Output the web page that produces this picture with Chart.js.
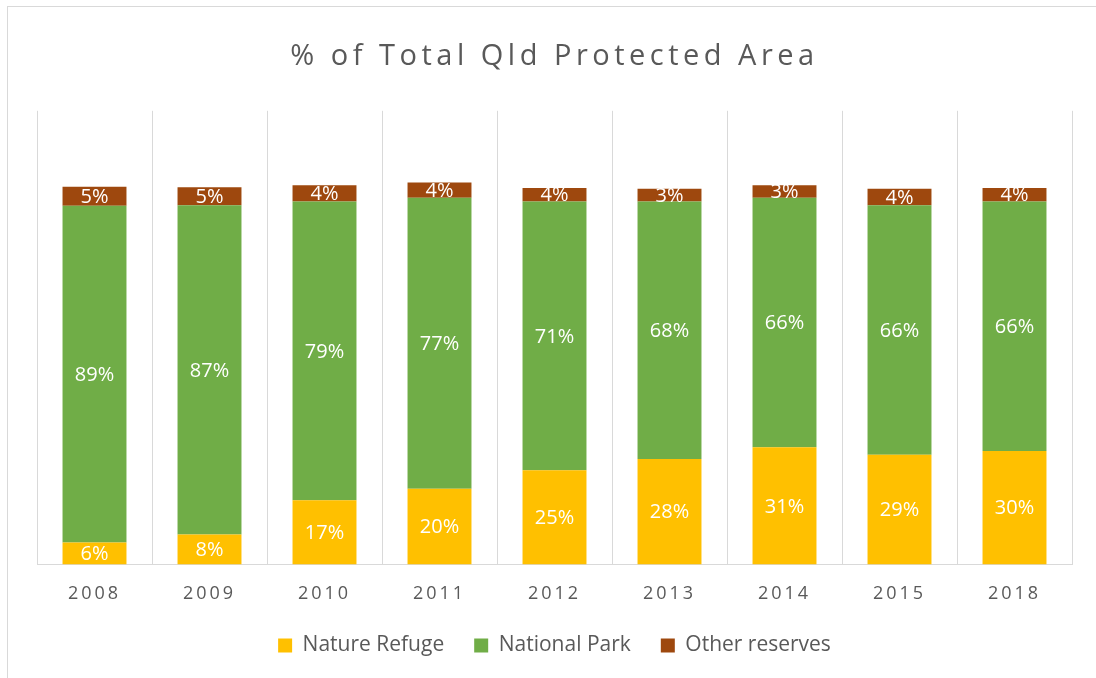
<!DOCTYPE html>
<html>
<head>
<meta charset="utf-8">
<title>% of Total Qld Protected Area</title>
<script src="https://cdn.jsdelivr.net/npm/chart.js@4.4.1/dist/chart.umd.min.js"></script>
<style>
  html, body { margin: 0; padding: 0; background: #fff; }
  #wrap { width: 1096px; height: 678px; position: relative; }
</style>
</head>
<body>
<div id="wrap"><canvas id="areaChart"></canvas></div>
<script>
// values (percent of total protected area)
const years = ['2008', '2009', '2010', '2011', '2012', '2013', '2014', '2015', '2018'];
const natureRefuge = [5.8, 7.9, 17.0, 20.0, 24.9, 27.9, 31.0, 29.0, 30.0];
const nationalPark = [89.1, 87.1, 79.0, 77.0, 71.1, 68.1, 66.0, 66.0, 66.0];
const otherReserves = [5.0, 4.8, 4.3, 4.0, 3.6, 3.4, 3.3, 4.4, 3.6];

const textGrey = '#595959';
const lineGrey = '#D9D9D9';

// wraps a draw method so the text it paints gets letter spacing
function spaced(obj, name, ls) {
    if (!obj || obj['_sp_' + name]) return;
    const orig = obj[name];
    obj[name] = function(...args) {
        const c = this.ctx;
        c.save();
        c.letterSpacing = ls;
        orig.apply(this, args);
        c.restore();
    };
    obj['_sp_' + name] = true;
}

const letterSpacing = {
    id: 'letterSpacing',
    afterLayout(chart) {
        spaced(chart.titleBlock, 'draw', '4.5px');
        spaced(chart.scales.x, 'drawLabels', '3px');
    }
};

const frame = {
    id: 'frame',
    beforeDraw(chart) {
        const ctx = chart.ctx;
        ctx.save();
        ctx.strokeStyle = lineGrey;
        ctx.lineWidth = 1;
        ctx.strokeRect(7.5, 6.5, chart.width + 20, chart.height + 20);
        ctx.restore();
    }
};

const valueLabels = {
    id: 'valueLabels',
    afterDatasetsDraw(chart) {
        const ctx = chart.ctx;
        ctx.save();
        ctx.fillStyle = '#ffffff';
        ctx.font = '20px "Open Sans"';
        ctx.textAlign = 'center';
        ctx.textBaseline = 'middle';
        chart.data.datasets.forEach((ds, di) => {
            const meta = chart.getDatasetMeta(di);
            meta.data.forEach((bar, i) => {
                const v = ds.data[i];
                const y = (bar.y + bar.base) / 2 + 1;
                ctx.fillText(Math.round(v) + '%', bar.x, y);
            });
        });
        ctx.restore();
    }
};

const ctx = document.getElementById('areaChart');
new Chart(ctx, {
    type: 'bar',
    data: {
        labels: years,
        datasets: [
            { label: 'Nature Refuge', data: natureRefuge, backgroundColor: '#FFC000' },
            { label: 'National Park', data: nationalPark, backgroundColor: '#70AD47' },
            { label: 'Other reserves', data: otherReserves, backgroundColor: '#9E480E' }
        ]
    },
    options: {
        responsive: true,
        maintainAspectRatio: false,
        animation: false,
        datasets: {
            bar: { barPercentage: 0.556, categoryPercentage: 1, borderWidth: 0 }
        },
        layout: { padding: { left: 37, right: 24, top: 0, bottom: 12 } },
        scales: {
            x: {
                stacked: true,
                grid: {
                    color: lineGrey,
                    lineWidth: 1,
                    drawTicks: true,
                    tickLength: 19,
                    tickColor: 'rgba(0,0,0,0)',
                    offset: true
                },
                border: { color: lineGrey, width: 1 },
                ticks: {
                    color: textGrey,
                    padding: 0,
                    font: { family: '"Open Sans"', size: 18 }
                }
            },
            y: {
                stacked: true,
                display: false,
                min: 0,
                max: 120
            }
        },
        plugins: {
            title: {
                display: true,
                text: '% of Total Qld Protected Area',
                color: textGrey,
                font: { family: '"Open Sans"', size: 29, weight: 'normal', lineHeight: 1.2 },
                padding: { top: 39, bottom: 37 }
            },
            legend: {
                position: 'bottom',
                labels: {
                    color: textGrey,
                    font: { family: '"Open Sans"', size: 21 },
                    boxWidth: 14,
                    boxHeight: 14,
                    padding: 30
                }
            },
            tooltip: { enabled: false }
        }
    },
    plugins: [letterSpacing, frame, valueLabels]
});
</script>
</body>
</html>
